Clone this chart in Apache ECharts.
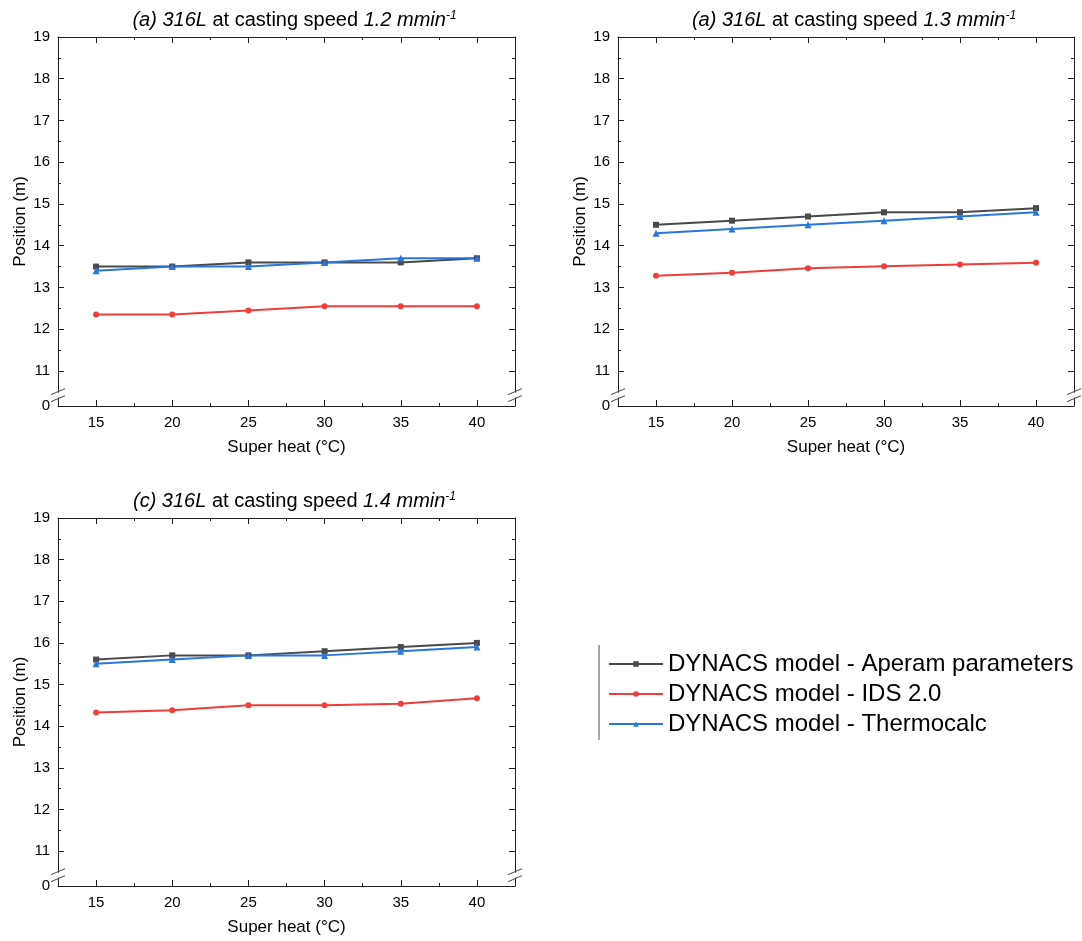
<!DOCTYPE html>
<html>
<head>
<meta charset="utf-8">
<script src="https://cdn.jsdelivr.net/npm/echarts@6/dist/echarts.min.js"></script>
<style>
  html, body { margin: 0; padding: 0; background: #fff; }
  #chart { width: 1082px; height: 941px; }
</style>
</head>
<body>
<div id="chart"></div>
<script>
// Super heat (°C) on the x axis
const superHeat = [15, 20, 25, 30, 35, 40];

const seriesNames = [
  'DYNACS model - Aperam parameters',
  'DYNACS model - IDS 2.0',
  'DYNACS model - Thermocalc'
];

// Solidification end position (m), casting speed 1.2 m/min
const aperam12 = [13.5, 13.5, 13.6, 13.6, 13.6, 13.7];
const ids12    = [12.35, 12.35, 12.45, 12.55, 12.55, 12.55];
const thermo12 = [13.4, 13.5, 13.5, 13.6, 13.7, 13.7];

// casting speed 1.3 m/min
const aperam13 = [14.5, 14.6, 14.7, 14.8, 14.8, 14.9];
const ids13    = [13.28, 13.35, 13.46, 13.51, 13.55, 13.59];
const thermo13 = [14.3, 14.4, 14.5, 14.6, 14.7, 14.8];

// casting speed 1.4 m/min
const aperam14 = [15.6, 15.7, 15.7, 15.8, 15.9, 16.0];
const ids14    = [14.33, 14.38, 14.5, 14.5, 14.54, 14.67];
const thermo14 = [15.5, 15.6, 15.7, 15.7, 15.8, 15.9];

const panelLetters  = ['(a)', '(a)', '(c)'];
const castingSpeeds = ['1.2', '1.3', '1.4'];

// Tick values
const xTickValues  = [15, 20, 25, 30, 35, 40];
const xMinorTicks  = [17.5, 22.5, 27.5, 32.5, 37.5];
const yTickValues  = [11, 12, 13, 14, 15, 16, 17, 18, 19];
const yMinorTicks  = [11.5, 12.5, 13.5, 14.5, 15.5, 16.5, 17.5, 18.5];
const yBreakLabel  = '0';

const panelData = [
  [aperam12, ids12, thermo12],
  [aperam13, ids13, thermo13],
  [aperam14, ids14, thermo14]
];

const FONT = '"Liberation Sans", Arial, Helvetica, sans-serif';
const AXIS_COLOR = '#1f1f1f';
const X_MIN = 12.5, X_MAX = 42.5;
// The y axis is broken: everything below BREAK_AT is squeezed and the bottom edge reads 0
const Y_MIN = 10.16, Y_MAX = 19, BREAK_AT = 10.42;

const grids = [
  { left: 58,  top: 37,  width: 457, height: 369 },
  { left: 618, top: 37,  width: 456, height: 369 },
  { left: 58,  top: 518, width: 457, height: 368 }
];

const lineStyles = [
  { color: '#4a4a4a', symbol: 'rect',     symbolSize: 6 },
  { color: '#ee3d3d', symbol: 'circle',   symbolSize: 6 },
  { color: '#2a76dc', symbol: 'triangle', symbolSize: 7 }
];

function tickStyle(len, values) {
  return { show: true, inside: true, length: len, customValues: values,
           lineStyle: { color: AXIS_COLOR, width: 1 } };
}

function xAxesFor(g) {
  const base = {
    type: 'value', gridIndex: g, min: X_MIN, max: X_MAX,
    splitLine: { show: false },
    axisLine: { show: false, onZero: false },
    axisLabel: { show: false }
  };
  const line = { show: true, onZero: false, lineStyle: { color: AXIS_COLOR, width: 1 } };
  return [
    Object.assign({}, base, {
      position: 'bottom', axisLine: line, axisTick: tickStyle(6, xTickValues),
      axisLabel: { show: true, customValues: xTickValues, margin: 9,
                   fontSize: 15, color: '#000', fontFamily: FONT },
      name: 'Super heat (°C)', nameLocation: 'middle', nameGap: 33,
      nameTextStyle: { fontSize: 17, color: '#000', fontFamily: FONT }
    }),
    Object.assign({}, base, { position: 'bottom', axisTick: tickStyle(3, xMinorTicks) }),
    Object.assign({}, base, { position: 'top', axisLine: line, axisTick: tickStyle(6, xTickValues) }),
    Object.assign({}, base, { position: 'top', axisTick: tickStyle(3, xMinorTicks) })
  ];
}

function yAxesFor(g) {
  const base = {
    type: 'value', gridIndex: g, min: Y_MIN, max: Y_MAX,
    splitLine: { show: false },
    axisLine: { show: false, onZero: false },
    axisLabel: { show: false }
  };
  const line = { show: true, onZero: false, lineStyle: { color: AXIS_COLOR, width: 1 } };
  return [
    Object.assign({}, base, {
      position: 'left', axisLine: line, axisTick: tickStyle(6, yTickValues),
      axisLabel: { show: true, customValues: [Y_MIN].concat(yTickValues), margin: 8,
                   fontSize: 15, color: '#000', fontFamily: FONT,
                   formatter: v => (v < yTickValues[0] ? yBreakLabel : String(v)) },
      name: 'Position (m)', nameLocation: 'middle', nameGap: 29,
      nameTextStyle: { fontSize: 17, color: '#000', fontFamily: FONT }
    }),
    Object.assign({}, base, { position: 'left', axisTick: tickStyle(3, yMinorTicks) }),
    Object.assign({}, base, { position: 'right', axisLine: line, axisTick: tickStyle(6, yTickValues) }),
    Object.assign({}, base, { position: 'right', axisTick: tickStyle(3, yMinorTicks) })
  ];
}

const xAxes = [], yAxes = [], series = [], titles = [];
grids.forEach((grid, g) => {
  xAxes.push(...xAxesFor(g));
  yAxes.push(...yAxesFor(g));
  panelData[g].forEach((values, k) => {
    const st = lineStyles[k];
    series.push({
      type: 'line', name: seriesNames[k],
      xAxisIndex: g * 4, yAxisIndex: g * 4,
      data: superHeat.map((x, i) => [x, values[i]]),
      symbol: st.symbol, symbolSize: st.symbolSize,
      lineStyle: { color: st.color, width: 2 },
      itemStyle: { color: st.color },
      emphasis: { disabled: true },
      animation: false
    });
  });
  titles.push({
    text: '{i|' + panelLetters[g] + ' 316L} at casting speed {i|' + castingSpeeds[g] + ' mmin}{s|-1}',
    left: grid.left + grid.width / 2 + 3,
    top: grid.top - 32,
    textAlign: 'center',
    textStyle: {
      fontSize: 20, fontWeight: 'normal', color: '#000', fontFamily: FONT,
      rich: {
        i: { fontStyle: 'italic', fontSize: 20, color: '#000', fontFamily: FONT },
        s: { fontStyle: 'italic', fontSize: 12, color: '#000', fontFamily: FONT, verticalAlign: 'top' }
      }
    }
  });
});

const chart = echarts.init(document.getElementById('chart'), null, { renderer: 'canvas' });
chart.setOption({
  backgroundColor: '#fff',
  animation: false,
  title: titles,
  grid: grids,
  xAxis: xAxes,
  yAxis: yAxes,
  series: series,
  legend: {
    data: seriesNames,
    orient: 'vertical',
    left: 603, top: 647,
    itemWidth: 54, itemHeight: 7, itemGap: 6,
    textStyle: { fontSize: 24, color: '#000', fontFamily: FONT }
  }
});

// Axis-break marks on the left and right axes of each panel, plus the legend's side rule
const graphics = [{
  type: 'line', shape: { x1: 599, y1: 645, x2: 599, y2: 740 },
  style: { stroke: '#8a8a8a', lineWidth: 1.5 }
}];
grids.forEach((grid, g) => {
  [X_MIN, X_MAX].forEach(xv => {
    const c = chart.convertToPixel({ xAxisIndex: g * 4, yAxisIndex: g * 4 }, [xv, BREAK_AT]);
    graphics.push({ type: 'rect', z: 100,
      shape: { x: c[0] - 2, y: c[1] - 2.5, width: 4, height: 5 }, style: { fill: '#fff' } });
    [-3.5, 3.5].forEach(d => graphics.push({ type: 'line', z: 101,
      shape: { x1: c[0] - 7, y1: c[1] + d + 3, x2: c[0] + 7, y2: c[1] + d - 3 },
      style: { stroke: '#444', lineWidth: 1 } }));
  });
});
chart.setOption({ graphic: graphics });
</script>
</body>
</html>
